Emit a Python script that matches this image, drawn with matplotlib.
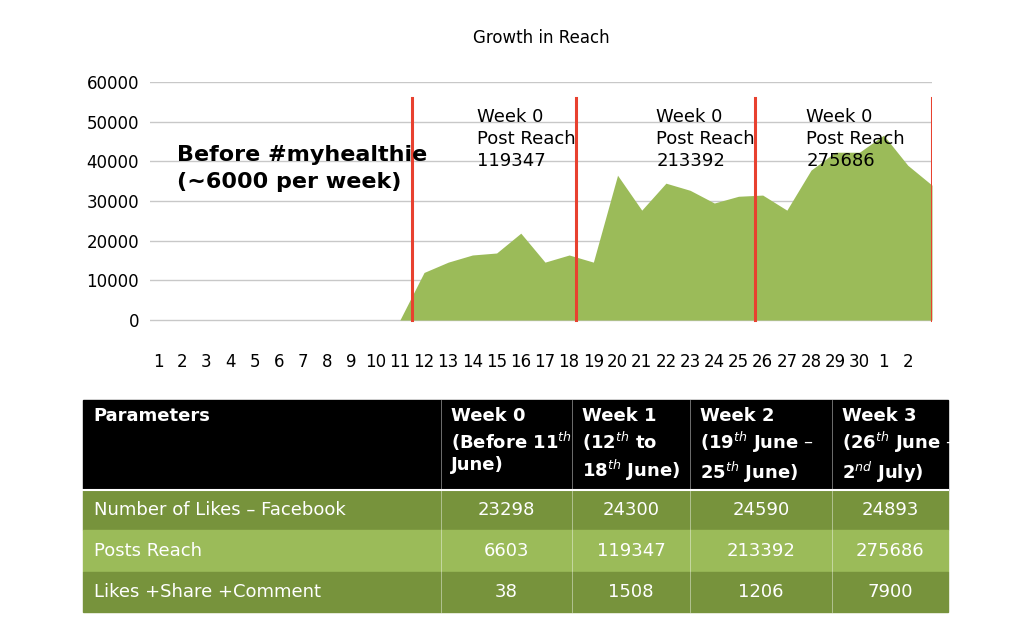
import matplotlib
matplotlib.use('Agg')
import matplotlib.pyplot as plt
from matplotlib.patches import Rectangle

plt.rcParams['font.family'] = ['Liberation Sans Narrow', 'DejaVu Sans']

# daily reach, 1 June .. 2 July plus end point
day_labels = [str(d) for d in range(1, 31)] + ['1', '2']
reach = [0] * 10 + [0, 12000, 14600, 16400, 16900, 21900, 14600, 16400, 14600,
                    36500, 27700, 34500, 32700, 29500, 31200, 31500, 27700, 37800,
                    42300, 42300, 46600, 39000, 34000]
reach_x = list(range(1, 34))
week_marks = [11.5, 18.3, 25.7, 33.0]
week_notes = ['Week 0\nPost Reach\n119347', 'Week 0\nPost Reach\n213392',
              'Week 0\nPost Reach\n275686']
note_x = [14.2, 21.6, 27.8]
yticks = [0, 10000, 20000, 30000, 40000, 50000, 60000]

row_names = ['Number of Likes \u2013 Facebook', 'Posts Reach', 'Likes +Share +Comment']
col_heads = ['Parameters',
             'Week 0\n(Before 11$^{th}$\nJune)',
             'Week 1\n(12$^{th}$ to\n18$^{th}$ June)',
             'Week 2\n(19$^{th}$ June \u2013\n25$^{th}$ June)',
             'Week 3\n(26$^{th}$ June \u2013\n2$^{nd}$ July)']
likes = [23298, 24300, 24590, 24893]
posts = [6603, 119347, 213392, 275686]
engage = [38, 1508, 1206, 7900]

fig = plt.figure(figsize=(10.24, 6.4), dpi=100)
ax = fig.add_axes([150/1024, 1-328/640, 782/1024, 246/640])
ax.fill_between(reach_x, reach, 0, color='#9bbb59', lw=0)
for y in yticks:
    ax.axhline(y, color='#c8c8c8', lw=1, zorder=0)
for x in week_marks:
    ax.plot([x, x], [0, 56000], color='#e8412f', lw=2.2)
for x, t in zip(note_x, week_notes):
    ax.text(x, 53500, t, fontsize=13, va='top', ha='left', linespacing=1.3)
ax.text(1.8, 44000, 'Before #myhealthie\n(~6000 per week)', fontsize=16,
        fontweight='bold', va='top', linespacing=1.4)
ax.set_xlim(0.67, 33)
ax.set_ylim(-2000, 60000)
ax.set_yticks(yticks)
ax.set_yticklabels([str(v) for v in yticks], fontsize=12)
ax.set_xticks(range(1, 33))
ax.set_xticklabels(day_labels, fontsize=12)
ax.tick_params(length=0, axis='x', pad=18)
ax.tick_params(length=0, axis='y', pad=8)
for s in ax.spines.values():
    s.set_visible(False)
ax.set_title('Growth in Reach', fontsize=12, pad=28)

# table
tb = fig.add_axes([0, 0, 1, 1])
tb.set_xlim(0, 1024)
tb.set_ylim(640, 0)
tb.axis('off')
cols = [83, 441, 572, 690, 832, 948]
rows = [(490, 530, '#77933c'), (530, 572, '#9bbb59'), (572, 612, '#77933c')]
tb.add_patch(Rectangle((83, 400), 865, 90, color='black'))
for y0, y1, c in rows:
    tb.add_patch(Rectangle((83, y0), 865, y1 - y0, color=c))
for x in cols[1:-1]:
    tb.plot([x, x], [400, 612], color='white', lw=0.6, alpha=0.5)
tb.plot([83, 948], [490, 490], color='white', lw=1.5)
for i, h in enumerate(col_heads):
    tb.text(cols[i] + 10, 407, h, color='white', fontsize=13, fontweight='bold',
            va='top', linespacing=1.25)
for (y0, y1, c), name, vals in zip(rows, row_names, [likes, posts, engage]):
    tb.text(94, (y0 + y1) / 2, name, color='white', fontsize=13, va='center')
    for j, v in enumerate(vals):
        tb.text((cols[j+1] + cols[j+2]) / 2, (y0 + y1) / 2, str(v), color='white',
                fontsize=13, va='center', ha='center')

fig.savefig('out.png', dpi=100)
